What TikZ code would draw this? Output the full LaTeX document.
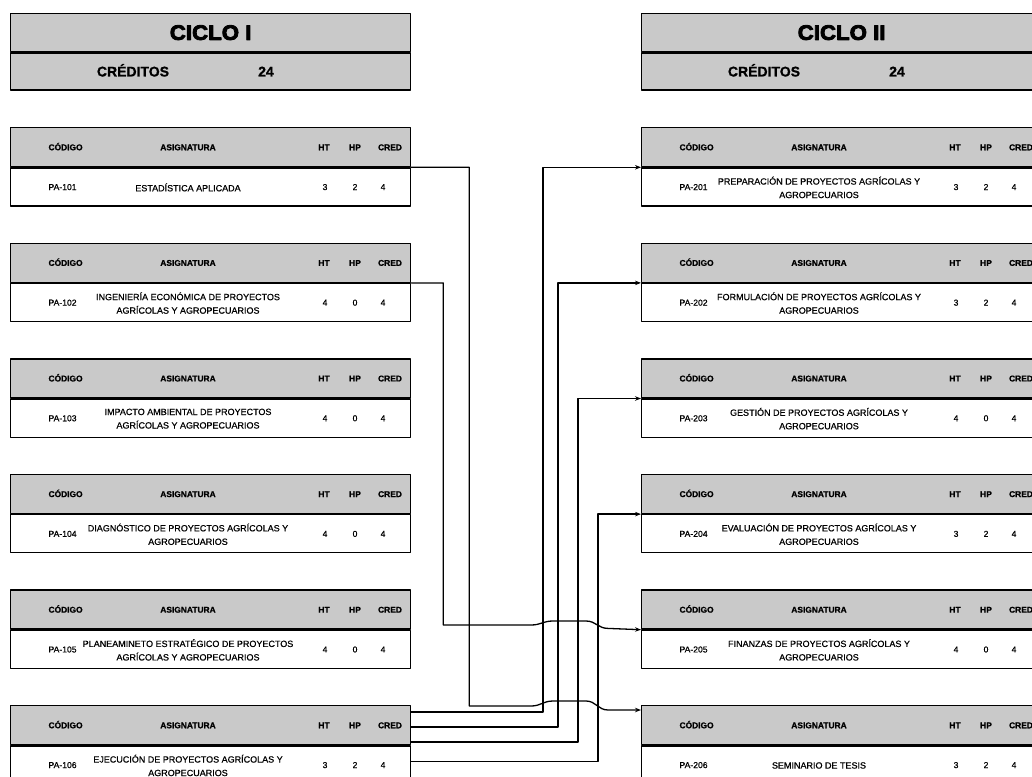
\documentclass[tikz,border=0pt]{standalone}
\usepackage{fontspec}
\setmainfont{Liberation Sans}
\newfontfamily\heavyfont[FakeBold=4,FakeStretch=1.06]{Liberation Sans Bold}
\newfontfamily\headfont[FakeBold=1]{Liberation Sans Bold}
\newfontfamily\bodyfont[FakeBold=0.6]{Liberation Sans}
\usetikzlibrary{arrows.meta}
\tikzset{
 cell/.style={draw,line width=1.3pt,minimum width=400pt,inner sep=0pt,anchor=north west},
 titlecell/.style={cell,fill=gray!42},
 headcell/.style={cell,fill=gray!42,minimum height=39pt},
 bodycell/.style={cell,fill=white,minimum height=38pt},
 hd/.style={font=\headfont\fontsize{8.4}{10}\selectfont,text height=6.2pt,text depth=0pt},
 tx/.style={font=\bodyfont\fontsize{8.6}{13.5}\selectfont,text height=6.2pt,text depth=0pt},
 sj/.style={font=\bodyfont\fontsize{9}{13.5}\selectfont,align=center},
 link/.style={line width=1.3pt},
 arr/.style={link,-{Stealth[length=6pt,width=4.5pt]}}
}
\begin{document}
\begin{tikzpicture}[x=1pt,y=-1pt,line cap=round,line join=round]
\fill[white] (0,0) rectangle (1032,776);
\useasboundingbox (0,0) rectangle (1032,776);
\clip (0,0) rectangle (1032,776);
\foreach \n/\x in {I/10,II/641}
{\node[titlecell,minimum height=38pt] (t\n) at (\x,13) {};
\node[titlecell,minimum height=37pt] (k\n) at (t\n.south west) {};
\node[font=\heavyfont\fontsize{21}{21}\selectfont] (tt\n) at (t\n.center) {CICLO \n};
\node[font=\headfont\fontsize{14}{14}\selectfont,text height=10pt,text depth=0pt] (kt\n) at ([xshift=123pt]k\n.west) {CRÉDITOS};
\node[font=\headfont\fontsize{14}{14}\selectfont,text height=10pt,text depth=0pt] (kn\n) at ([xshift=256pt]k\n.west) {24};}
\foreach \cod/\subj/\vt/\vp/\vk in {
101/{ESTADÍSTICA APLICADA}/3/2/4,
102/{INGENIERÍA ECONÓMICA DE PROYECTOS\\AGRÍCOLAS Y AGROPECUARIOS}/4/0/4,
103/{IMPACTO AMBIENTAL DE PROYECTOS\\AGRÍCOLAS Y AGROPECUARIOS}/4/0/4,
104/{DIAGNÓSTICO DE PROYECTOS AGRÍCOLAS Y\\AGROPECUARIOS}/4/0/4,
105/{PLANEAMINETO ESTRATÉGICO DE PROYECTOS\\AGRÍCOLAS Y AGROPECUARIOS}/4/0/4,
106/{EJECUCIÓN DE PROYECTOS AGRÍCOLAS Y\\AGROPECUARIOS}/3/2/4,
201/{PREPARACIÓN DE PROYECTOS AGRÍCOLAS Y\\AGROPECUARIOS}/3/2/4,
202/{FORMULACIÓN DE PROYECTOS AGRÍCOLAS Y\\AGROPECUARIOS}/3/2/4,
203/{GESTIÓN DE PROYECTOS AGRÍCOLAS Y\\AGROPECUARIOS}/4/0/4,
204/{EVALUACIÓN DE PROYECTOS AGRÍCOLAS Y\\AGROPECUARIOS}/3/2/4,
205/{FINANZAS DE PROYECTOS AGRÍCOLAS Y\\AGROPECUARIOS}/4/0/4,
206/{SEMINARIO DE TESIS}/3/2/4}
{\pgfmathsetmacro\bx{10+631*(int(\cod/100)-1)}
\pgfmathsetmacro\by{127+115.6*(mod(\cod,100)-1)}
\node[headcell] (h\cod) at (\bx,\by) {};
\node[bodycell] (b\cod) at (h\cod.south west) {};
\node[hd,anchor=west] (hc\cod) at ([xshift=35pt]h\cod.west) {CÓDIGO};
\node[hd] (ha\cod) at ([xshift=178pt]h\cod.west) {ASIGNATURA};
\node[hd] (ht\cod) at ([xshift=314pt]h\cod.west) {HT};
\node[hd] (hp\cod) at ([xshift=345pt]h\cod.west) {HP};
\node[hd] (hk\cod) at ([xshift=380pt]h\cod.west) {CRED};
\node[tx,anchor=west] (bc\cod) at ([xshift=35pt]b\cod.west) {PA-\cod};
\node[sj] (ba\cod) at ([xshift=178pt,yshift=-0.5pt]b\cod.west) {\subj};
\node[tx] (bt\cod) at ([xshift=315pt]b\cod.west) {\vt};
\node[tx] (bp\cod) at ([xshift=345pt]b\cod.west) {\vp};
\node[tx] (bk\cod) at ([xshift=373pt]b\cod.west) {\vk};}
\draw[arr] (h101.south east) -- ++(58,0) |- (531,706)
 .. controls (541,706) and (543,701) .. (553,701) -- (586,701)
 .. controls (596,701) and (598,710) .. (608,710) -- ([yshift=-5pt]h206.north west);
\draw[arr] (h102.south east) -- ++(32,0) |- (531,625)
 .. controls (541,625) and (543,621) .. (553,621) -- (586,621)
 .. controls (596,621) and (598,628.4) .. (608,628.4) -- (h205.south west);
\draw[arr] ([yshift=-7pt]h106.north east) -| ([xshift=-98pt]h201.south west) -- (h201.south west);
\draw[arr] ([yshift=-22pt]h106.north east) -| ([xshift=-83pt]h202.south west) -- (h202.south west);
\draw[arr] ([yshift=-37pt]h106.north east) -| ([xshift=-63pt]h203.south west) -- (h203.south west);
\draw[arr] ([yshift=-16pt]b106.north east) -| ([xshift=-43pt]h204.south west) -- (h204.south west);
\end{tikzpicture}
\end{document}
